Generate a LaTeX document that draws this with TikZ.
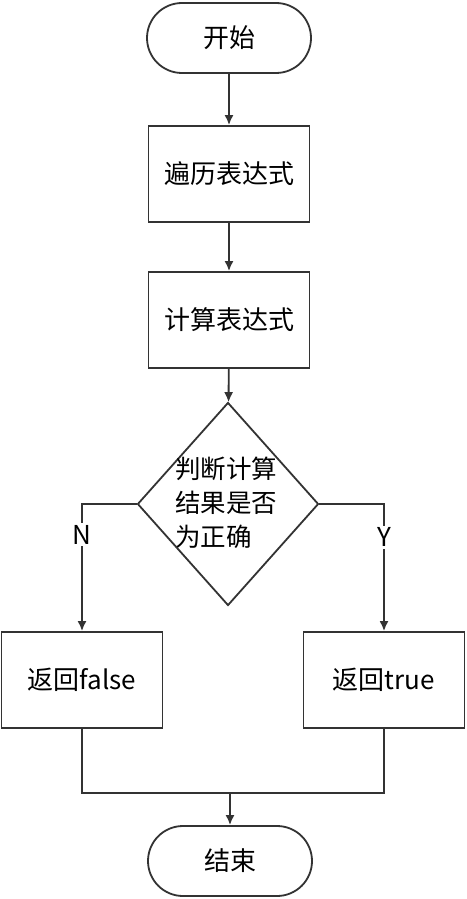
\documentclass[tikz,border=0pt]{standalone}
\usepackage{fontspec}
\setmainfont{Noto Sans CJK SC}
\usetikzlibrary{arrows.meta}
\usetikzlibrary{shapes.geometric}
\tikzset{>={Latex[length=10pt,width=9pt]}}
\definecolor{flowgray}{RGB}{51,51,51}
\tikzstyle{flowline}=[draw=flowgray,line width=1.8pt]
\tikzstyle{termbox}=[flowline,rectangle,rounded corners=35pt,minimum width=164pt,minimum height=70pt,inner sep=0pt,font=\fontsize{26}{30}\selectfont]
\tikzstyle{procbox}=[flowline,rectangle,minimum width=161pt,minimum height=96pt,inner sep=0pt,font=\fontsize{26}{30}\selectfont]
\tikzstyle{decbox}=[flowline,diamond,minimum width=181pt,minimum height=203pt,inner sep=0pt]
\tikzstyle{branchlabel}=[fill=white,inner sep=2pt,font=\fontsize{26}{30}\selectfont,text=black]

\begin{document}
\begin{tikzpicture}[x=1pt,y=-1pt]
    \useasboundingbox (0,0) rectangle (466,899);
    \fill[white] (0,0) rectangle (466,899);
    \node[termbox] (start) at (229,38) {开始};
    \node[procbox] (trav) at (229,174) {遍历表达式};
    \node[procbox] (calc) at (229,320) {计算表达式};
    \node[decbox] (judge) at (228,504) {};
    \node[align=left,inner sep=0pt,font=\fontsize{25.5}{34}\selectfont] (judgetext) at (226,503) {判断计算\\结果是否\\为正确};
    \node[procbox] (retf) at (82,680) {返回false};
    \node[procbox] (rett) at (384,680) {返回true};
    \node[termbox] (stop) at (230,861) {结束};
    \coordinate (merge) at (230,793);

    \draw[flowline,->] (start) -- (trav);
    \draw[flowline,->] (trav) -- (calc);
    \draw[flowline,->] (calc) -- (judge);
    \draw[flowline,->] (judge.west) -| (retf.north) node[branchlabel,pos=0.62] {N};
    \draw[flowline,->] (judge.east) -| (rett.north) node[branchlabel,pos=0.63] {Y};
    \draw[flowline] (retf.south) |- (merge) -| (rett.south);
    \draw[flowline,->] (merge) -- (stop);
  \end{tikzpicture}
\end{document}
